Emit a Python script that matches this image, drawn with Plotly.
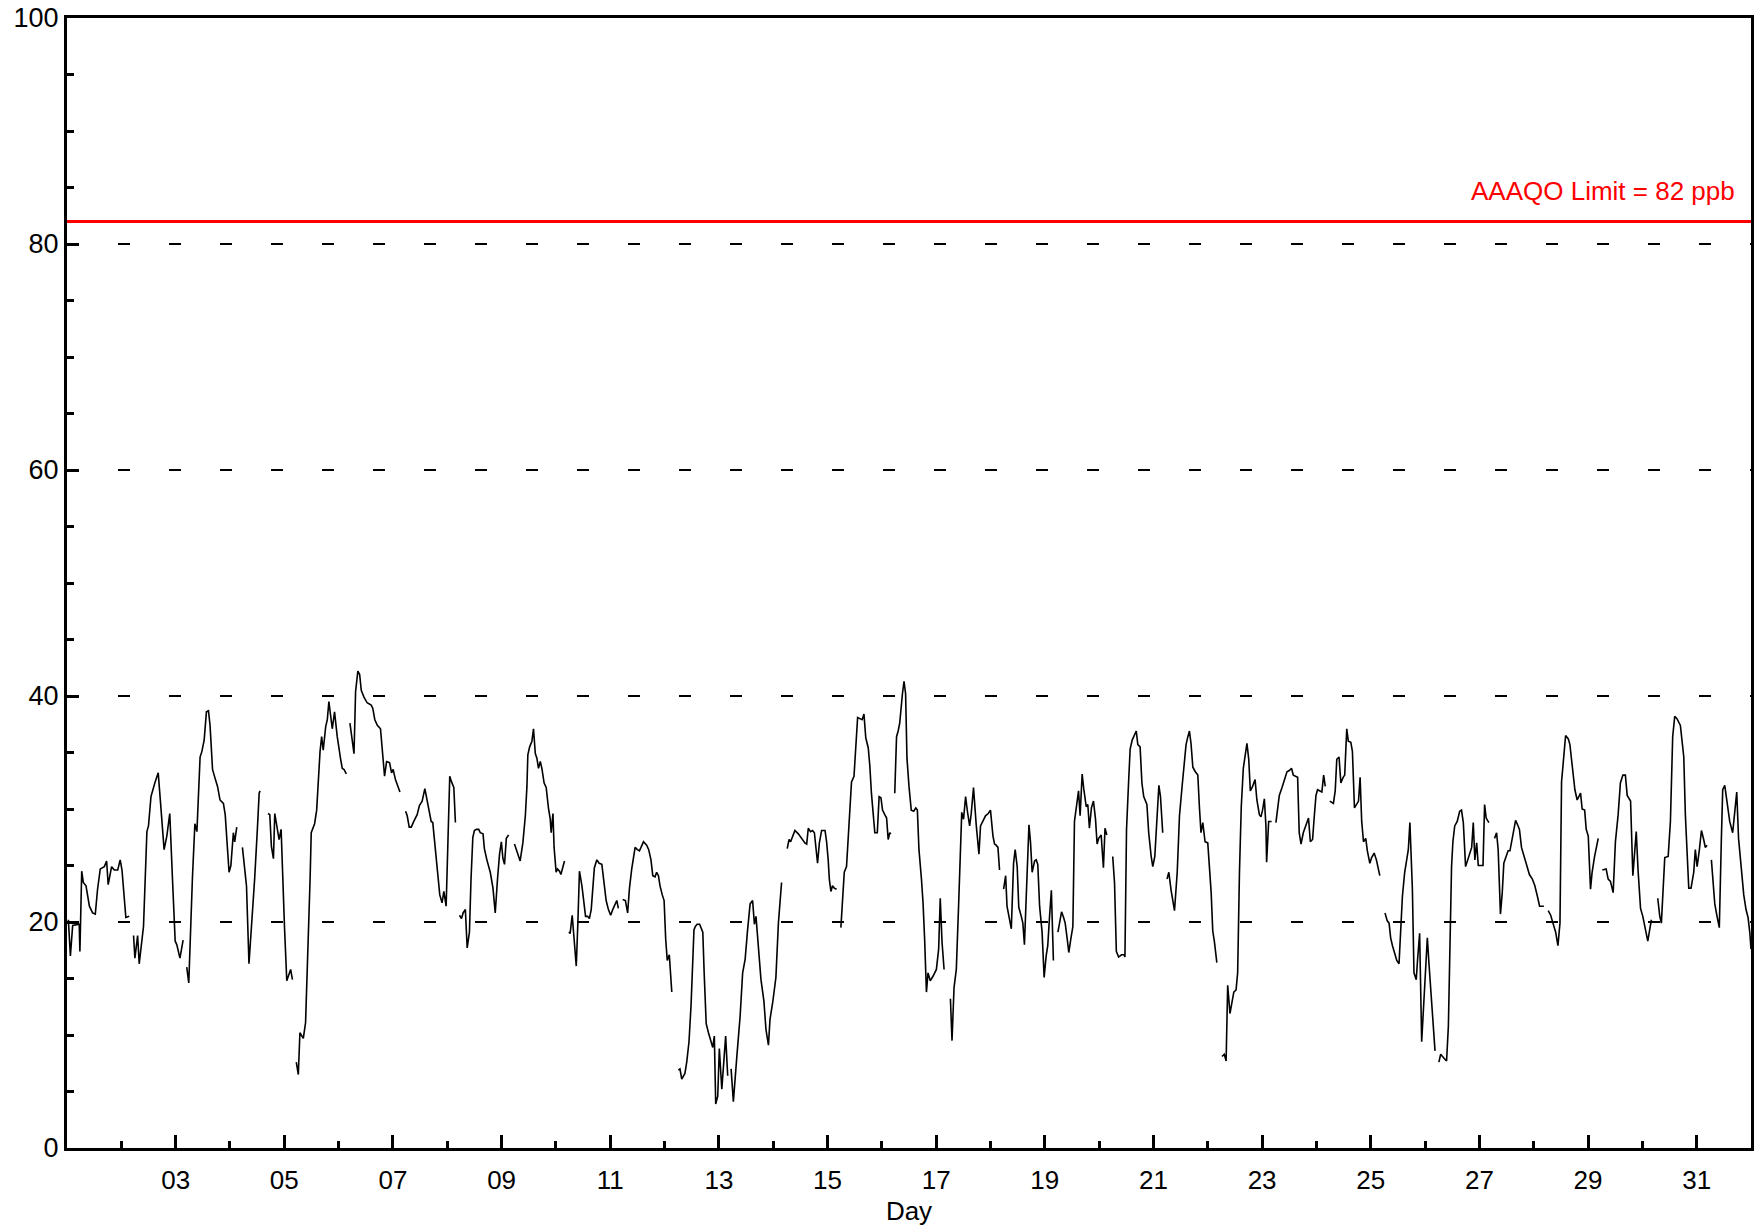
import plotly.graph_objects as go

# Hourly ozone (ppb), hours since day 1 00:00; None marks data gaps
hours = [
    0.6, 1.5, 2.5, 5.4, 5.7, 6.5, 7.2, 8.4, 9.9, 11.3, 12.5, 13.5, 14.7, 16.5, 17.5, 18.2, 19.7, 20.9, 22.4, 23.5, 24.3, 26.0, 27.5, None,
    29.4, 30.0, 31.2, 31.9, 33.8, 35.3, 36.0, 37.1, 38.8, 40.3, 41.5, 42.9, 44.1, 45.4, 46.6, 47.8, 48.5, 49.9, 51.3, None,
    52.9, 53.8, 55.4, 56.5, 57.4, 58.8, 59.6, 60.6, 61.6, 62.5, 63.2, 64.3, 65.3, 66.5, 67.6, 69.1, 69.9, 71.6, 72.4, 73.5, 74.1, 75.0, None,
    77.5, 78.2, 79.3, 80.4, 81.9, 82.9, 84.1, 84.9, 85.3, None,
    88.8, 89.6, 90.3, 91.2, 91.8, 92.9, 93.7, 94.6, 95.4, 96.1, 97.1, 98.1, 98.8, 99.6, None,
    101.3, 102.2, 102.9, 104.4, 105.4, 106.2, 107.4, 107.9, 109.4, 110.3, 111.0, 111.8, 112.5, 113.2, 114.3, 115.0, 115.7, 116.5, 117.2, 118.2, 119.4, 120.9, 121.6, 122.4, 123.4, None,
    125.0, 126.8, 127.5, 128.5, 129.3, 130.0, 131.2, 132.6, 134.4, 135.1, 136.0, 137.1, 138.5, 139.3, 140.3, 141.2, 142.5, 143.4, 144.1, 145.1, 146.2, 147.1, None,
    149.6, 150.3, 151.2, 152.1, 153.2, 154.7, 155.7, 156.9, 158.1, 158.8, 159.9, 160.9, 161.6, 162.4, 163.5, 164.7, 165.7, 166.5, 167.5, 168.4, 169.1, 169.9, 170.9, 171.6, None,
    173.4, 174.3, 175.0, 176.0, 176.8, 177.8, 178.5, 179.3, 180.0, 180.9, 181.9, 182.6, 183.8, 184.4, 185.5, 187.0, 188.2, 189.2, 190.2, 191.1, 191.9, 192.6, 193.3, 194.1, 195.1, None,
    197.7, 198.8, 200.2, 201.4, 202.5, 203.2, 203.6, 204.4, 205.4, 206.1, 206.9, 207.6, 208.3, 209.1, 209.8, 210.8, 211.7, 212.7, 213.5, 213.9, 214.7, 215.2, 216.1, 216.7, 217.6, 218.2, 219.1, 219.8, None,
    221.7, 222.3, 223.2, 224.1, 225.0, 225.7, 226.4, 227.5, 228.2, 229.1, 230.0, 230.8, 231.6, 232.3, 233.0, 234.1, 235.1, 236.3, 237.0, 238.2, 239.2, 240.2, 241.1, 242.0, 242.9, 243.6, None,
    245.5, 246.7, 247.7, 248.5, 249.5, 250.2, 251.0, 252.0, 252.9, 253.6, 254.7, 256.1, 257.0, 258.0, 258.8, 259.8, 260.5, 261.3, 262.0, 263.0, 263.8, 264.5, 265.2, 266.1, 267.2, None,
    270.1, 270.8, 271.6, 273.0, 273.8, 274.8, 275.7, 276.3, 277.0, 277.6, 278.4, 279.5, 280.9, 281.5, 282.4, 283.4, 284.4, 285.3, 286.0, 286.6, 287.5, 288.2, 289.3, 290.0, 291.0, 291.9, None,
    293.4, 294.4, 295.9, 297.4, 298.5, 299.6, 300.6, 301.8, 302.9, 303.7, 304.4, 305.4, 306.6, 307.9, 308.8, 309.9, 310.6, 311.8, 313.2, 314.3, 315.7, None,
    318.2, 319.0, 319.7, 320.6, 321.6, 323.1, 324.6, 326.0, 326.8, 327.5, 328.5, 329.4, 330.2, 330.9, 331.6, 332.4, 333.4, 334.9, 335.6, 336.3, 336.8, 337.5, 338.2, 339.0, 340.0, None,
    341.9, 342.7, 343.4, 344.4, 345.6, 346.6, 347.7, 348.5, 349.3, 350.3, 351.3, 352.1, 352.9, 354.0, 354.7, 355.4, 356.2, 356.9, 358.0, 358.8, 359.6, 360.3, 361.3, 362.1, 362.8, 363.5, 364.0, None,
    365.7, 366.5, 367.2, 367.9, 369.1, 369.8, 370.5, 371.1, 372.0, 373.0, 374.1, 375.0, 375.7, 376.4, 377.5, 378.2, 378.9, 379.7, 380.4, 381.4, 382.6, 384.1, 385.1, 385.8, 386.6, 387.5, None,
    390.3, 391.0, 391.9, 392.9, 393.9, 394.7, 395.3, 396.1, 397.0, 397.8, 398.8, 399.5, 400.5, 401.7, 402.9, 403.6, 404.7, 405.8, 407.0, 408.0, 409.1, 409.8, 410.5, 411.3, 412.0, None,
    413.8, 414.7, 415.3, 416.1, 417.2, 418.2, 418.9, 419.8, 420.5, 421.6, 422.3, 423.0, 424.1, 425.0, 425.7, 426.4, 427.5, 428.2, 428.9, 429.7, 430.8, 431.7, 432.6, 433.3, 434.1, 434.9, 435.8, None,
    437.8, 438.5, 439.4, 440.3, 441.0, 441.9, 442.6, 443.5, 444.4, 445.1, 445.8, 446.9, 447.6, 448.5, 449.2, 450.3, 451.0, 451.7, 452.6, 453.5, 454.4, 455.1, 455.8, 456.9, 457.9, 458.6, 459.4, None,
    462.0, 462.8, 463.6, 464.6, 465.9, 467.0, 467.4, 468.1, 469.0, 469.7, 470.6, 471.6, 472.4, 473.1, 474.1, 474.9, 475.7, 477.1, 477.9, 479.0, 479.7, 480.6, 481.5, 482.4, 483.1, 484.1, None,
    486.0, 486.8, 487.8, 489.3, 490.5, 491.5, 492.7, 493.7, 494.4, 495.2, 495.9, 496.6, 497.4, 498.5, 499.6, 500.3, 501.0, 501.8, 502.8, 504.0, 504.7, 505.5, 506.2, 506.9, 508.0, None,
    510.3, 511.3, 512.1, 512.8, 513.8, 514.7, 515.5, 516.5, 517.2, 518.0, 518.8, 519.7, 520.6, 521.3, 522.1, 522.8, 523.8, 524.9, 525.7, 526.8, 527.5, 528.2, 529.0, 529.7, 530.0, 530.9, 532.2, None,
    534.1, 534.9, 535.6, 536.8, 537.8, 539.0, 540.0, 541.0, 541.8, 543.0, 543.7, 544.4, 545.2, 546.2, 547.4, 548.5, 549.3, 550.3, 551.0, 551.8, 552.5, 553.5, 554.4, 555.2, 555.9, None,
    557.9, 559.5, 560.3, 561.0, 562.0, 562.8, 563.8, 564.5, 565.4, 566.1, 567.2, 567.9, 568.8, 569.7, 570.6, 571.3, 572.0, 572.8, 573.8, 574.5, 575.6, 576.4, 577.5, 578.5, 579.2, 580.0, None,
    582.3, 583.3, 584.1, 584.8, 585.6, 586.6, 587.5, 588.5, 589.2, 590.0, 591.0, 591.9, 592.6, 593.3, 594.4, 595.1, 596.1, 596.7, 597.6, 598.5, 599.5, 600.3, 601.0, 601.7, 602.5, 603.5, 604.4, None,
    606.1, 606.9, 608.1, 609.5, 610.3, 611.0, 611.7, 612.3, 613.1, 614.2, 615.3, 616.1, 616.9, 617.9, 618.9, 619.7, 620.6, 621.3, 622.0, 622.8, 623.5, 624.5, 625.6, 626.3, 627.0, 628.2, None,
    630.7, 631.6, 632.3, 633.3, 634.1, 634.8, 635.8, 636.7, 637.5, 638.2, 639.2, 640.0, 641.1, 641.7, 642.6, 643.3, 644.4, 645.1, 646.1, 647.4, 648.5, 649.6, 650.6, 652.5, None,
    654.4, 655.5, 656.5, 657.7, 658.7, 659.6, 660.3, 661.2, 662.1, 663.3, 664.0, 664.7, 665.5, 666.2, 667.2, 668.0, 668.7, 669.4, 670.5, 671.2, 672.1, 673.1, 673.8, 674.9, 676.5, None,
    678.3, 680.0, 680.9, 681.9, 683.1, 684.1, 685.3, 686.3, 687.4, 688.5, 689.3, 690.8, 691.8, 693.3, 694.1, 695.2, 696.2, 697.4, 698.4, 699.3, 700.0, None,
    702.8, 703.7, 704.4, 705.2, 705.9, 707.4, 708.4, 709.4, 710.3, 711.3, 712.8, 713.5, 714.3, 715.0, 715.8, 716.5, 717.5, 718.7, 719.4, 720.2, 721.2, 722.1, 723.1, 723.8, 724.6, None,
    726.5, 727.2, 728.0, 729.0, 730.0, 730.9, 731.5, 732.4, 733.4, 734.6, 735.9, 736.8, 737.7, 738.5, 739.6, 740.8, 741.8, 742.7, 743.5, 744.0,
]

ozone_ppb = [
    20.2, 17.0, 19.7, 19.8, 17.4, 24.5, 23.5, 23.2, 21.4, 20.8, 20.7, 22.9, 24.7, 24.9, 25.4, 23.3, 24.9, 24.6, 24.6, 25.5, 24.6, 20.4, 20.5, None,
    18.8, 16.8, 18.8, 16.3, 19.6, 28.0, 28.5, 31.1, 32.3, 33.2, 30.1, 26.4, 27.6, 29.6, 23.8, 18.3, 18.0, 16.8, 18.4, None,
    16.0, 14.6, 23.8, 28.7, 28.0, 34.6, 35.1, 36.1, 38.6, 38.7, 37.4, 33.5, 32.8, 32.0, 30.8, 30.5, 29.5, 24.4, 25.0, 27.9, 27.1, 28.4, None,
    26.6, 25.2, 23.2, 16.3, 20.5, 23.8, 28.2, 31.4, 31.6, None,
    29.6, 29.5, 26.7, 25.6, 29.6, 28.1, 27.3, 28.2, 22.6, 19.5, 14.8, 15.3, 15.8, 14.9, None,
    7.6, 6.5, 10.2, 9.7, 11.1, 15.5, 23.8, 27.9, 28.7, 29.9, 32.6, 35.1, 36.4, 35.2, 37.3, 37.9, 39.5, 37.9, 37.1, 38.6, 36.4, 34.4, 33.6, 33.5, 33.1, None,
    37.6, 34.9, 40.4, 42.2, 41.9, 40.5, 39.9, 39.4, 39.2, 38.9, 37.9, 37.4, 37.1, 35.5, 32.9, 34.2, 34.1, 33.2, 33.5, 32.6, 32.0, 31.5, None,
    29.8, 29.4, 28.4, 28.4, 28.9, 29.5, 30.3, 30.7, 31.8, 31.1, 30.2, 28.9, 28.8, 27.3, 24.9, 22.4, 21.7, 22.7, 21.4, 27.4, 32.9, 32.4, 31.9, 28.8, None,
    20.6, 20.3, 20.8, 21.1, 17.7, 19.1, 23.8, 27.5, 28.1, 28.2, 28.2, 27.9, 27.8, 26.5, 25.5, 24.4, 23.0, 20.8, 23.8, 26.0, 27.1, 25.6, 25.1, 27.4, 27.7, None,
    26.9, 26.3, 25.4, 27.0, 29.4, 32.0, 34.8, 35.5, 36.0, 37.1, 34.9, 34.5, 33.6, 34.2, 33.6, 32.3, 31.9, 30.1, 29.1, 27.9, 29.6, 26.6, 24.4, 24.7, 24.5, 24.2, 24.9, 25.4, None,
    19.1, 19.0, 20.6, 18.5, 16.1, 19.9, 24.5, 23.2, 22.0, 20.5, 20.5, 20.3, 21.1, 23.2, 24.8, 25.5, 25.2, 25.1, 23.8, 21.9, 21.1, 20.6, 21.1, 21.5, 21.9, 21.2, None,
    22.0, 21.9, 20.8, 23.0, 24.7, 25.5, 26.6, 26.4, 26.3, 26.6, 27.1, 26.8, 26.4, 25.5, 24.1, 24.0, 24.4, 24.1, 23.2, 22.4, 21.9, 18.5, 16.6, 17.1, 13.8, None,
    6.9, 7.0, 6.1, 6.6, 7.6, 9.4, 12.6, 15.8, 19.3, 19.6, 19.8, 19.8, 19.1, 15.5, 11.0, 10.2, 9.4, 8.9, 9.9, 3.9, 4.6, 8.8, 5.2, 7.3, 9.9, 6.4, None,
    7.0, 4.1, 8.0, 11.7, 15.5, 16.7, 19.1, 21.6, 21.9, 19.8, 20.5, 18.2, 14.9, 13.0, 10.5, 9.1, 11.4, 12.9, 15.1, 19.9, 23.5, None,
    26.5, 27.3, 27.1, 27.6, 28.1, 27.8, 27.4, 27.0, 26.9, 28.3, 28.0, 28.1, 27.9, 26.8, 25.2, 27.0, 28.1, 28.1, 27.1, 25.5, 23.8, 22.7, 23.2, 23.0, 22.9, None,
    19.5, 22.3, 24.4, 24.9, 28.5, 32.4, 32.9, 36.1, 38.1, 38.0, 37.9, 38.4, 36.3, 35.4, 33.8, 31.4, 29.6, 27.9, 27.9, 31.1, 31.0, 29.9, 29.5, 29.2, 27.3, 27.9, 27.8, None,
    31.4, 36.4, 36.9, 37.6, 40.2, 41.3, 40.2, 34.5, 32.0, 29.9, 29.8, 30.1, 29.9, 26.4, 23.8, 21.7, 18.5, 13.8, 15.5, 14.8, 15.2, 15.8, 17.6, 22.1, 18.2, 15.8, None,
    13.2, 9.5, 14.2, 15.8, 21.4, 26.7, 29.7, 29.1, 31.1, 29.8, 28.5, 29.6, 31.9, 28.6, 26.0, 28.5, 28.9, 29.4, 29.6, 29.9, 27.6, 26.9, 26.8, 26.6, 24.6, None,
    22.9, 24.1, 21.4, 20.5, 19.4, 25.2, 26.4, 24.9, 21.3, 20.5, 19.9, 18.0, 24.9, 28.6, 27.0, 24.4, 25.4, 25.5, 25.1, 21.4, 19.1, 15.1, 17.0, 17.9, 20.5, 22.8, 16.6, None,
    19.1, 19.9, 20.9, 20.4, 19.9, 18.5, 17.3, 18.5, 19.6, 28.9, 30.1, 31.6, 29.4, 33.1, 31.8, 30.2, 30.4, 28.3, 30.1, 30.7, 29.1, 26.9, 27.4, 27.7, 24.8, 28.3, 27.7, None,
    25.8, 23.5, 17.4, 16.9, 17.1, 17.1, 16.9, 28.2, 32.3, 35.3, 36.1, 36.6, 36.9, 35.7, 35.5, 32.3, 31.1, 30.4, 27.9, 25.8, 24.9, 25.8, 29.1, 32.1, 31.1, 27.9, None,
    23.8, 24.4, 22.8, 21.0, 24.4, 29.4, 32.1, 34.1, 35.7, 36.4, 36.9, 35.8, 33.7, 33.3, 33.0, 30.2, 27.9, 28.8, 27.1, 27.0, 24.9, 22.6, 19.2, 18.3, 16.4, None,
    8.1, 8.3, 7.7, 14.4, 11.9, 12.9, 13.8, 14.0, 15.5, 24.4, 30.2, 33.6, 34.8, 35.8, 34.4, 31.6, 32.0, 32.6, 30.8, 29.5, 29.3, 29.9, 30.9, 28.5, 25.3, 28.9, 28.9, None,
    28.8, 30.4, 31.2, 31.9, 32.6, 33.3, 33.4, 33.6, 33.0, 32.9, 32.8, 27.9, 26.9, 27.9, 28.5, 29.2, 27.1, 27.3, 29.2, 31.2, 31.7, 31.6, 31.5, 33.0, 32.0, None,
    30.7, 30.5, 31.6, 34.4, 34.6, 32.3, 32.8, 33.0, 37.1, 36.0, 35.9, 35.1, 30.1, 30.4, 30.7, 32.8, 28.9, 27.1, 27.4, 26.3, 25.2, 25.7, 26.1, 25.5, 24.9, 24.1, None,
    20.8, 20.1, 19.9, 18.6, 17.9, 17.1, 16.6, 16.3, 19.1, 22.3, 24.4, 25.5, 26.4, 28.8, 22.9, 15.5, 14.9, 16.7, 19.0, 9.4, 13.2, 16.7, 18.6, 16.4, 13.8, 11.1, 8.6, None,
    7.6, 8.3, 8.0, 7.7, 10.8, 17.9, 24.9, 27.1, 28.5, 28.9, 29.8, 29.9, 28.8, 24.9, 25.5, 26.1, 26.6, 28.8, 25.5, 27.0, 25.0, 25.0, 25.0, 30.4, 29.2, 28.8, None,
    27.4, 27.9, 26.4, 20.7, 22.6, 25.2, 25.8, 26.3, 26.3, 27.1, 28.0, 29.0, 28.5, 28.2, 26.6, 26.1, 25.2, 24.9, 24.2, 23.8, 23.2, 22.3, 21.4, 21.4, None,
    21.0, 20.6, 19.9, 19.1, 17.9, 19.9, 32.4, 34.5, 36.5, 36.2, 35.7, 34.4, 32.7, 31.7, 30.8, 31.1, 31.4, 30.0, 29.9, 28.2, 27.6, 22.9, 24.4, 25.8, 27.4, None,
    24.6, 24.7, 23.8, 23.6, 22.6, 27.1, 29.5, 32.3, 33.0, 33.0, 31.2, 30.7, 24.1, 28.0, 24.6, 21.2, 20.5, 19.4, 18.3, 19.4, 20.2, None,
    22.1, 20.5, 19.9, 23.2, 25.7, 25.8, 28.9, 36.4, 38.2, 38.0, 37.4, 36.1, 34.6, 29.5, 25.2, 23.0, 23.0, 24.4, 26.4, 24.9, 26.4, 28.1, 27.3, 26.6, 26.8, None,
    25.5, 23.8, 21.6, 20.5, 19.5, 27.3, 31.7, 32.1, 30.8, 28.9, 27.9, 29.6, 31.5, 27.4, 24.9, 22.4, 21.1, 20.4, 19.0, 17.6,
]

day_ticks = [3, 5, 7, 9, 11, 13, 15, 17, 19, 21, 23, 25, 27, 29, 31]
day_labels = ["03", "05", "07", "09", "11", "13", "15", "17", "19", "21", "23", "25", "27", "29", "31"]
minor_day_ticks = [2, 4, 6, 8, 10, 12, 14, 16, 18, 20, 22, 24, 26, 28, 30, 32]
ppb_ticks = [0, 20, 40, 60, 80, 100]
limit_ppb = 82
limit_label = "AAAQO Limit = 82 ppb"

x_days = [None if h is None else 1 + h / 24.0 for h in hours]

fig = go.Figure()
fig.add_trace(go.Scatter(
    x=x_days, y=ozone_ppb, mode="lines",
    line=dict(color="black", width=1.6),
    connectgaps=False, hoverinfo="skip", showlegend=False,
))

fig.add_shape(type="line", xref="paper", x0=0, x1=1, yref="y",
              y0=limit_ppb, y1=limit_ppb, line=dict(color="#ff0000", width=3))
fig.add_annotation(xref="paper", x=1, xanchor="right", xshift=-14,
                   yref="y", y=limit_ppb, yanchor="bottom", yshift=13,
                   text=limit_label, showarrow=False,
                   font=dict(color="#ff0000", size=26))

fig.update_layout(
    width=1757, height=1228,
    margin=dict(l=67, r=3, t=18, b=80),
    plot_bgcolor="white", paper_bgcolor="white",
    font=dict(family="Arial, Liberation Sans, sans-serif", size=26, color="black"),
    showlegend=False,
)

fig.update_xaxes(
    range=[1, 32], tickmode="array", tickvals=day_ticks, ticktext=day_labels,
    ticks="inside", ticklen=13, tickwidth=3, tickcolor="black",
    tickfont=dict(size=26), ticklabelstandoff=7,
    showline=True, linecolor="black", linewidth=3, mirror=True,
    showgrid=False, zeroline=False,
    title=dict(text="Day", font=dict(size=26), standoff=8),
    minor=dict(tickmode="array", tickvals=minor_day_ticks, ticks="inside",
               ticklen=7, tickwidth=3, tickcolor="black", showgrid=False),
)
fig.update_yaxes(
    range=[0, 100], tickmode="array", tickvals=ppb_ticks,
    ticks="inside", ticklen=12, tickwidth=3, tickcolor="black",
    tickfont=dict(size=27),
    showline=True, linecolor="black", linewidth=3, mirror=True,
    showgrid=True, gridcolor="black", gridwidth=1.5, griddash="12px,39px",
    zeroline=False,
    minor=dict(tickmode="linear", tick0=0, dtick=5, ticks="inside",
               ticklen=7, tickwidth=3, tickcolor="black", showgrid=False),
)

fig.write_html("out.html", config={"displayModeBar": False},
               post_script="document.body.style.margin='0';")
